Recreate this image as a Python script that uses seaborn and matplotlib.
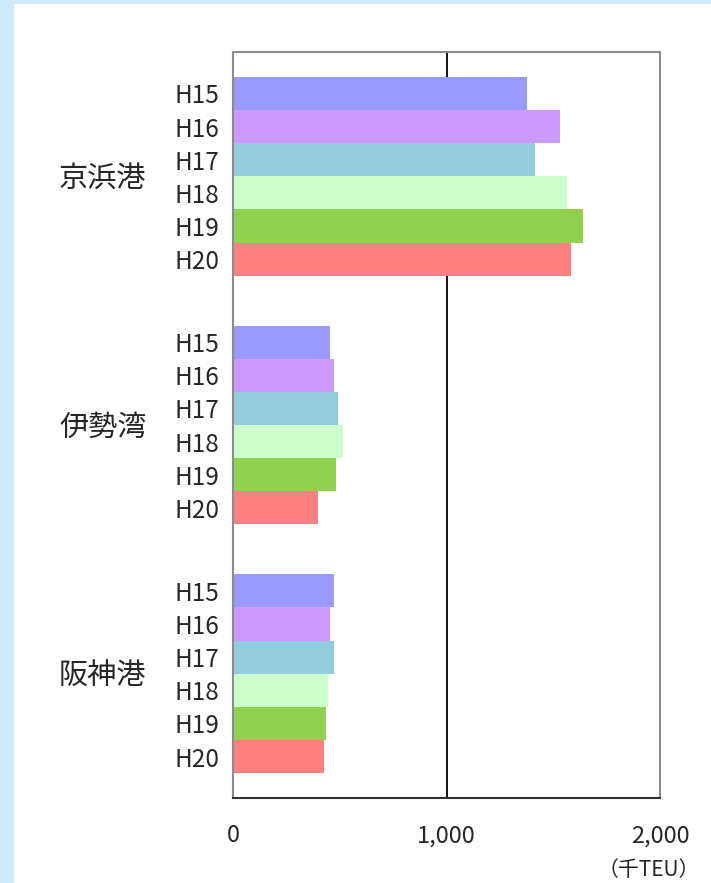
import pandas as pd
import matplotlib.pyplot as plt
import seaborn as sns
from matplotlib.patches import Rectangle

# データ（千TEU）
ports = ['京浜港', '伊勢湾', '阪神港']
years = ['H15', 'H16', 'H17', 'H18', 'H19', 'H20']
keihin = [1378, 1530, 1413, 1566, 1638, 1585]
isewan = [454, 472, 490, 517, 481, 400]
hanshin = [472, 454, 472, 445, 436, 428]
colors = ['#9999ff', '#cc99ff', '#93cddd', '#ccffcc', '#92d050', '#ff8080']
xticks = [0, 1000, 2000]
xtick_labels = ['0', '1,000', '2,000']

rows = []
for port, vals in zip(ports, [keihin, isewan, hanshin]):
    for y, v in zip(years, vals):
        rows.append({'port': port, 'year': y, 'value': v})
df = pd.DataFrame(rows)

sns.set_style('white')
plt.rcParams['font.family'] = ['Noto Sans CJK JP', 'DejaVu Sans']

fig = plt.figure(figsize=(7.11, 8.83), dpi=100)
fig.patch.set_facecolor('#cde9fb')
# 白いパネル
fig.patches.append(Rectangle((14 / 711, 0), 1, 1 - 4 / 883, transform=fig.transFigure,
                             facecolor='white', edgecolor='none', zorder=-5))

ax = fig.add_axes([233 / 711, 1 - 798 / 883, 427 / 711, 746 / 883])
ax.set_zorder(2)
sns.barplot(data=df, x='value', y='port', hue='year', order=ports, hue_order=years,
            palette=colors, saturation=1, width=0.8, orient='h', legend=False,
            errorbar=None, ax=ax, edgecolor='none')

ax.set_xlim(0, 2000)
ax.set_ylim(2.5, -0.5)
ax.set_xticks(xticks)
ax.set_xticklabels(xtick_labels, fontsize=17)
ax.tick_params(axis='x', length=0, pad=19)
ax.grid(axis='x', color='black', lw=1.3)
ax.set_axisbelow(True)
for s in ['top', 'right', 'left']:
    ax.spines[s].set_color('#8c8c8c')
    ax.spines[s].set_linewidth(1.5)
ax.spines['bottom'].set_color('#333333')
ax.spines['bottom'].set_linewidth(1.5)

# 年度ラベル
centers, labels = [], []
for cont, y in zip(ax.containers, years):
    for bar in cont:
        centers.append(bar.get_y() + bar.get_height() / 2)
        labels.append(y)
ax.set_yticks(centers)
ax.set_yticklabels(labels, fontsize=17.5)
ax.tick_params(axis='y', length=0, pad=10)
ax.set_xlabel('')
ax.set_ylabel('')

# 港名
trans = ax.get_yaxis_transform()
for i, p in enumerate(ports):
    ax.text(-0.305, i + 0.01, p, transform=trans, ha='center', va='center', fontsize=21)

ax.text(1.094, -0.082, '（千TEU）', transform=ax.transAxes, ha='right', va='top', fontsize=15)

plt.savefig('out.png', dpi=100, facecolor=fig.get_facecolor())
